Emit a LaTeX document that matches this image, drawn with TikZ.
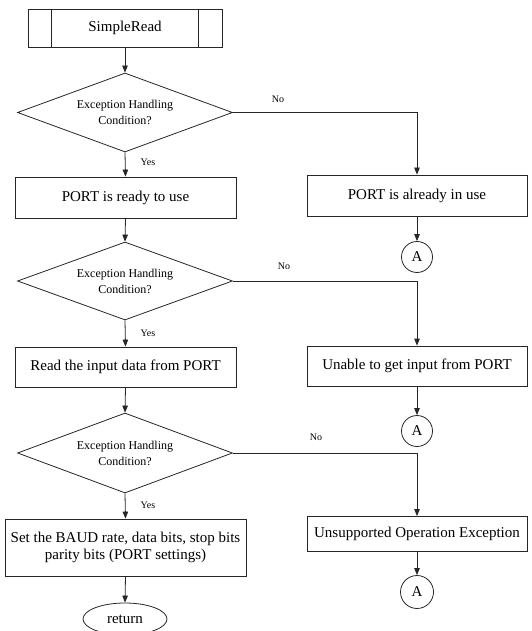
\documentclass[tikz,border=0pt]{standalone}
\usepackage{fontspec}
\setmainfont{Liberation Serif}
\usetikzlibrary{arrows.meta,shapes.geometric}
\begin{document}
\begin{tikzpicture}[x=1pt,y=-1pt,
  line width=0.8pt,
  every node/.style={draw=black!85, line width=0.8pt},
  boxnode/.style={rectangle, inner sep=0pt, font=\fontsize{15}{17.5}\selectfont, align=center},
  decision/.style={diamond, aspect=2.72, inner sep=0pt, minimum width=215pt, minimum height=79pt, font=\fontsize{12}{17}\selectfont, align=center},
  connector/.style={circle, inner sep=0pt, minimum size=31pt, font=\fontsize{15}{17}\selectfont},
  terminal/.style={ellipse, inner sep=0pt, minimum width=84pt, minimum height=32pt, font=\fontsize{15}{17}\selectfont},
  lbl/.style={draw=none, inner sep=0pt, font=\fontsize{10}{11}\selectfont},
  flow/.style={draw=black!85, -{Triangle[length=7pt,width=5.5pt]}}
]
\clip (0,0) rectangle (531,631);
\useasboundingbox (0,0) rectangle (531,631);

% left column
\node[boxnode, minimum width=194pt, minimum height=38pt] (sr) at (125,28) {SimpleRead};
\draw[black!85] ([xshift=24pt]sr.north west) -- ([xshift=24pt]sr.south west);
\draw[black!85] ([xshift=-24pt]sr.north east) -- ([xshift=-24pt]sr.south east);

\node[decision] (d1) at (125,112.5) {\raisebox{-3pt}{\shortstack{Exception Handling\\[2pt]Condition?}}};
\node[boxnode, minimum width=221pt, minimum height=41pt] (b2) at (125.5,197.5) {PORT is ready to use};
\node[decision, minimum height=78pt] (d2) at (125,281) {\raisebox{-3pt}{\shortstack{Exception Handling\\[2pt]Condition?}}};
\node[boxnode, minimum width=221pt, minimum height=40pt] (b3) at (125.5,367) {Read the input data from PORT};
\node[decision, minimum height=80pt] (d3) at (125,453) {\raisebox{-3pt}{\shortstack{Exception Handling\\[2pt]Condition?}}};
\node[boxnode, minimum width=241pt, minimum height=57pt] (b4) at (125.5,547.5) {Set the BAUD rate, data bits, stop bits\\parity bits (PORT settings)};
\node[terminal] (ret) at (125,619) {return};

% right column
\node[boxnode, minimum width=220pt, minimum height=41pt] (r1) at (417,195.5) {PORT is already in use};
\node[connector] (a1) at (417,257) {A};
\node[boxnode, minimum width=220pt, minimum height=40pt] (r2) at (417,366) {Unable to get input from PORT};
\node[connector] (a2) at (417,431) {A};
\node[boxnode, minimum width=220pt, minimum height=35pt] (r3) at (417,534) {Unsupported Operation Exception};
\node[connector, minimum size=33pt] (a3) at (417,592) {A};

% connectors
\draw[flow] (sr.south) -- (d1.north);
\draw[flow] (d1.south) -- (b2.north);
\draw[flow] (d1.east) -| (r1.north);
\draw[flow] (r1.south) -- (a1.north);
\draw[flow] (b2.south) -- (d2.north);
\draw[flow] (d2.south) -- (b3.north);
\draw[flow] (d2.east) -| (r2.north);
\draw[flow] (r2.south) -- (a2.north);
\draw[flow] (b3.south) -- (d3.north);
\draw[flow] (d3.south) -- (b4.north);
\draw[flow] (d3.east) -| (r3.north);
\draw[flow] (r3.south) -- (a3.north);
\draw[flow] (b4.south) -- (ret.north);

% labels
\node[lbl] (no1) at (278,99) {No};
\node[lbl] (no2) at (284,266) {No};
\node[lbl] (no3) at (316,437) {No};
\node[lbl] (yes1) at (148,162) {Yes};
\node[lbl] (yes2) at (148,333) {Yes};
\node[lbl] (yes3) at (148,505) {Yes};
\end{tikzpicture}
\end{document}
